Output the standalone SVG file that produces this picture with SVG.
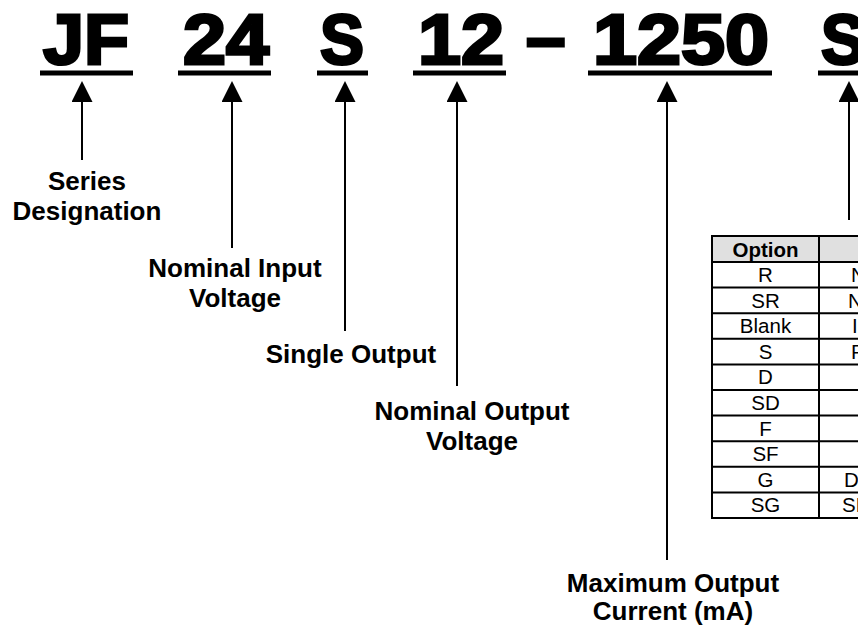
<svg xmlns="http://www.w3.org/2000/svg" width="858" height="627" viewBox="0 0 858 627">
<style>
.tok{font-family:"Liberation Sans",Arial,sans-serif;font-weight:bold;font-size:71px;fill:#000;stroke:#000;stroke-width:3;stroke-linejoin:miter}
.ul{fill:#000}
.lbl{font-family:"Liberation Sans",Arial,sans-serif;font-weight:bold;font-size:26px;fill:#000;text-anchor:middle}
.conn line{stroke:#000;stroke-width:2}
.cell{font-family:"Liberation Sans",Arial,sans-serif;font-size:20.5px;fill:#000;text-anchor:middle}
.cellr{font-family:"Liberation Sans",Arial,sans-serif;font-size:20.5px;fill:#000}
.hdr{font-family:"Liberation Sans",Arial,sans-serif;font-weight:bold;font-size:20.5px;fill:#000;text-anchor:middle}
.grid{stroke:#000;stroke-width:2;fill:none}
</style>
<defs>
<marker id="ah" markerUnits="userSpaceOnUse" viewBox="0 -10.5 21 21" markerWidth="21" markerHeight="21" refX="0" refY="0" orient="auto">
<path d="M0,-10.5 L21,0 L0,10.5 z" fill="#000"/>
</marker>
</defs>
<rect width="858" height="627" fill="#fff"/>

<g id="tok-jf"><text class="tok" x="43" y="64" textLength="86" lengthAdjust="spacingAndGlyphs">JF</text><rect class="ul" x="40" y="70.5" width="93" height="5"/></g>
<g id="tok-24"><text class="tok" x="183" y="64" textLength="86" lengthAdjust="spacingAndGlyphs">24</text><rect class="ul" x="178" y="70.5" width="93" height="5"/></g>
<g id="tok-s"><text class="tok" x="320" y="64" textLength="44" lengthAdjust="spacingAndGlyphs">S</text><rect class="ul" x="317" y="70.5" width="51" height="5"/></g>
<g id="tok-12"><text class="tok" x="418" y="64" textLength="86" lengthAdjust="spacingAndGlyphs">12</text><rect class="ul" x="413" y="70.5" width="93" height="5"/></g>
<g id="tok-dash"><text class="tok" x="526" y="61" font-size="66">–</text></g>
<g id="tok-1250"><text class="tok" x="593" y="64" textLength="176" lengthAdjust="spacingAndGlyphs">1250</text><rect class="ul" x="588" y="70.5" width="184" height="5"/></g>
<g id="tok-s2"><text class="tok" x="821" y="64" textLength="44" lengthAdjust="spacingAndGlyphs">S</text><rect class="ul" x="818" y="70.5" width="52" height="5"/></g>

<g id="connectors" class="conn">
<line x1="82" y1="160" x2="82" y2="102" marker-end="url(#ah)"/>
<line x1="232" y1="248" x2="232" y2="102" marker-end="url(#ah)"/>
<line x1="345" y1="331" x2="345" y2="102" marker-end="url(#ah)"/>
<line x1="457" y1="386" x2="457" y2="102" marker-end="url(#ah)"/>
<line x1="667" y1="560" x2="667" y2="102" marker-end="url(#ah)"/>
<line x1="849" y1="220" x2="849" y2="102" marker-end="url(#ah)"/>
</g>

<g id="lbl-series"><text class="lbl" x="87" y="190">Series</text><text class="lbl" x="87" y="220">Designation</text></g>
<g id="lbl-input"><text class="lbl" x="235" y="277">Nominal Input</text><text class="lbl" x="235" y="307">Voltage</text></g>
<g id="lbl-single"><text class="lbl" x="351" y="363">Single Output</text></g>
<g id="lbl-output"><text class="lbl" x="472" y="420">Nominal Output</text><text class="lbl" x="472" y="450">Voltage</text></g>
<g id="lbl-current"><text class="lbl" x="673" y="592">Maximum Output</text><text class="lbl" x="673" y="620">Current (mA)</text></g>

<g id="options-table">
<rect x="712" y="236" width="160" height="26" fill="#e0e0e0"/>
<rect class="grid" x="712" y="236" width="160" height="282"/>
<line class="grid" x1="819" y1="236" x2="819" y2="518"/>
<path class="grid" d="M712,262H872 M712,287.6H872 M712,313.2H872 M712,338.8H872 M712,364.4H872 M712,390H872 M712,415.6H872 M712,441.2H872 M712,466.8H872 M712,492.4H872"/>
<text class="hdr" x="765.5" y="257">Option</text>
<text class="cell" x="765.5" y="282">R</text>
<text class="cell" x="765.5" y="307.6">SR</text>
<text class="cell" x="765.5" y="333.2">Blank</text>
<text class="cell" x="765.5" y="358.8">S</text>
<text class="cell" x="765.5" y="384.4">D</text>
<text class="cell" x="765.5" y="410">SD</text>
<text class="cell" x="765.5" y="435.6">F</text>
<text class="cell" x="765.5" y="461.2">SF</text>
<text class="cell" x="765.5" y="486.8">G</text>
<text class="cell" x="765.5" y="512.4">SG</text>
<text class="cellr" x="851" y="282">N</text>
<text class="cellr" x="848" y="307.6">N</text>
<text class="cellr" x="852" y="333.2">I</text>
<text class="cellr" x="851" y="358.8">F</text>
<text class="cellr" x="844" y="486.8">DI</text>
<text class="cellr" x="842" y="512.4">SM</text>
</g>
</svg>
